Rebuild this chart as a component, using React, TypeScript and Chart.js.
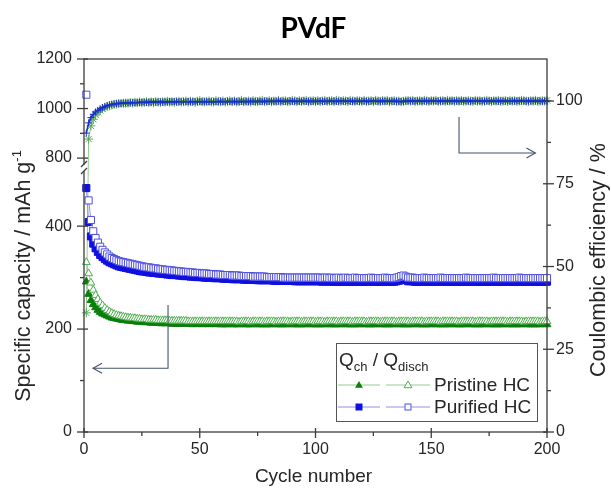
import React, { useEffect, useRef } from "react";
import { Chart, registerables } from "chart.js";
Chart.register(...registerables);

// ---------- data ----------
// Purified HC, discharge capacity (open squares), cycles 1..200, mAh/g
const purOpen: number[] = [
  1056, 450, 412, 390, 377, 368, 360, 354, 349, 345, 341, 338, 336, 334, 332, 331, 330, 329, 328, 327,
  326, 325, 324, 323, 322, 321, 320, 320, 319, 318, 318, 317, 316, 316, 315, 315, 314, 314, 313, 313,
  312, 312, 311, 311, 311, 310, 310, 309, 309, 309, 308, 308, 308, 307, 307, 307, 306, 306, 306, 305,
  305, 305, 305, 304, 304, 304, 304, 303, 303, 303, 303, 303, 302, 302, 302, 302, 302, 302, 301, 301,
  301, 301, 301, 301, 301, 300, 300, 300, 300, 300, 300, 300, 300, 300, 300, 300, 300, 300, 300, 300,
  300, 300, 299, 300, 300, 299, 300, 299, 299, 300, 299, 299, 300, 299, 299, 299, 300, 299, 299, 299,
  299, 299, 299, 300, 299, 299, 299, 299, 299, 300, 299, 299, 299, 299, 300, 301, 303, 304, 302, 300,
  300, 300, 299, 299, 299, 299, 300, 299, 299, 299, 299, 299, 299, 300, 299, 299, 299, 299, 299, 299,
  299, 299, 299, 299, 300, 299, 299, 299, 299, 299, 299, 299, 299, 299, 299, 299, 300, 299, 299, 299,
  299, 299, 299, 299, 299, 299, 299, 300, 299, 299, 299, 299, 299, 299, 299, 299, 299, 299, 299, 299,
];
// Purified HC, charge capacity (filled squares)
const purFill: number[] = [
  474, 408, 380, 366, 357, 350, 344, 340, 336, 333, 330, 328, 326, 324, 322, 321, 320, 319, 318, 317,
  316, 315, 314, 313, 312, 312, 311, 310, 310, 309, 309, 308, 308, 307, 307, 306, 306, 305, 305, 305,
  304, 304, 303, 303, 303, 302, 302, 302, 301, 301, 301, 300, 300, 300, 300, 299, 299, 299, 299, 298,
  298, 298, 298, 297, 297, 297, 297, 297, 296, 296, 296, 296, 296, 296, 295, 295, 295, 295, 295, 295,
  295, 294, 294, 294, 294, 294, 294, 294, 294, 294, 293, 293, 293, 293, 293, 293, 293, 293, 293, 293,
  293, 293, 292, 293, 293, 292, 293, 292, 292, 293, 292, 292, 293, 292, 292, 292, 293, 292, 292, 292,
  292, 292, 292, 293, 292, 292, 292, 292, 292, 293, 292, 292, 292, 292, 293, 294, 296, 297, 295, 293,
  293, 293, 292, 292, 292, 292, 293, 292, 292, 292, 292, 292, 292, 293, 292, 292, 292, 292, 292, 292,
  292, 292, 292, 292, 293, 292, 292, 292, 292, 292, 292, 292, 292, 292, 292, 292, 293, 292, 292, 292,
  292, 292, 292, 292, 292, 292, 292, 293, 292, 292, 292, 292, 292, 292, 292, 292, 292, 292, 292, 292,
];
// Pristine HC, discharge capacity (open triangles)
const priOpen: number[] = [
  330, 308, 290, 276, 266, 258, 251, 246, 241, 237, 234, 231, 229, 227, 226, 225, 224, 223, 222, 222,
  221, 221, 220, 220, 219, 219, 219, 218, 218, 218, 218, 217, 217, 217, 217, 217, 216, 216, 216, 216,
  216, 216, 216, 216, 215, 215, 215, 215, 215, 215, 215, 215, 215, 215, 215, 215, 215, 215, 215, 215,
  215, 215, 215, 215, 215, 215, 214, 215, 215, 215, 215, 214, 215, 215, 215, 215, 215, 214, 215, 215,
  215, 215, 214, 215, 215, 215, 215, 215, 214, 215, 215, 215, 215, 214, 215, 215, 215, 215, 215, 214,
  215, 215, 215, 214, 215, 215, 215, 215, 215, 214, 215, 215, 215, 215, 215, 214, 215, 215, 215, 215,
  215, 214, 215, 215, 215, 215, 215, 214, 215, 215, 215, 215, 215, 215, 214, 215, 215, 215, 215, 215,
  214, 215, 215, 215, 215, 215, 214, 215, 215, 215, 215, 215, 215, 214, 215, 215, 215, 215, 215, 215,
  215, 214, 215, 215, 215, 215, 215, 215, 214, 215, 215, 215, 215, 215, 214, 215, 215, 215, 215, 215,
  215, 215, 214, 215, 215, 215, 215, 215, 215, 214, 215, 215, 215, 215, 215, 215, 214, 215, 215, 215,
];
// Pristine HC, charge capacity (filled triangles)
const priFill: number[] = [
  292, 268, 256, 248, 242, 237, 233, 230, 228, 226, 224, 222, 221, 220, 219, 218, 217, 217, 216, 216,
  215, 215, 214, 214, 214, 213, 213, 213, 212, 212, 212, 212, 211, 211, 211, 211, 211, 210, 210, 210,
  210, 210, 210, 210, 210, 210, 209, 210, 210, 210, 209, 210, 210, 209, 210, 210, 209, 210, 209, 209,
  209, 209, 210, 209, 209, 209, 209, 210, 209, 209, 209, 209, 209, 210, 209, 209, 209, 209, 209, 209,
  209, 210, 209, 209, 209, 209, 209, 209, 210, 209, 209, 209, 209, 209, 209, 209, 210, 209, 209, 209,
  209, 209, 209, 209, 210, 209, 209, 209, 209, 209, 209, 210, 209, 209, 209, 209, 209, 209, 209, 210,
  209, 209, 209, 209, 209, 209, 210, 209, 209, 209, 209, 209, 209, 209, 210, 209, 209, 209, 209, 209,
  209, 209, 210, 209, 209, 209, 209, 209, 209, 209, 210, 209, 209, 209, 209, 209, 209, 209, 210, 209,
  209, 209, 209, 209, 209, 210, 209, 209, 209, 209, 209, 209, 209, 210, 209, 209, 209, 209, 209, 209,
  209, 210, 209, 209, 209, 209, 209, 209, 209, 210, 209, 209, 209, 209, 209, 209, 209, 210, 209, 209,
];
// Coulombic efficiency, %, Purified HC
const purCE: number[] = [
  90.3, 93.4, 95.0, 96.0, 96.7, 97.2, 97.6, 98.0, 98.3, 98.6, 98.8, 99.0, 99.1, 99.2, 99.3, 99.3, 99.4, 99.4, 99.4, 99.5,
  99.5, 99.5, 99.5, 99.6, 99.6, 99.6, 99.6, 99.6, 99.7, 99.7, 99.7, 99.7, 99.7, 99.7, 99.7, 99.7, 99.8, 99.8, 99.8, 99.8,
  99.8, 99.8, 99.8, 99.8, 99.8, 99.8, 99.8, 99.8, 99.8, 99.8, 99.8, 99.8, 99.8, 99.8, 99.8, 99.8, 99.8, 99.8, 99.9, 99.8,
  99.8, 99.9, 99.8, 99.8, 99.9, 99.8, 99.8, 99.9, 99.8, 99.9, 99.8, 99.9, 99.9, 99.8, 99.9, 99.9, 99.8, 99.9, 99.9, 99.9,
  99.9, 99.9, 99.9, 100.0, 99.9, 99.9, 99.9, 99.9, 100.0, 99.9, 99.9, 99.9, 99.9, 99.9, 100.0, 99.9, 99.9, 99.9, 99.9, 99.9,
  99.9, 100.0, 99.9, 99.9, 99.9, 100.0, 99.9, 99.9, 99.9, 99.9, 100.0, 99.9, 99.9, 100.0, 99.9, 99.9, 99.9, 100.0, 99.9, 99.9,
  100.0, 99.9, 99.9, 100.0, 99.9, 100.0, 99.9, 99.9, 100.0, 99.9, 100.0, 99.9, 100.0, 99.9, 99.9, 99.9, 99.8, 99.9, 100.0, 100.0,
  100.0, 100.0, 99.9, 100.0, 100.0, 99.9, 100.0, 100.0, 99.9, 100.0, 100.0, 100.0, 99.9, 100.0, 100.0, 100.0, 99.9, 100.0, 100.0, 100.0,
  100.0, 99.9, 100.0, 100.0, 100.0, 100.0, 99.9, 100.0, 100.0, 100.0, 100.0, 100.0, 99.9, 100.0, 100.0, 100.0, 100.0, 100.0, 99.9, 100.0,
  100.0, 100.0, 100.0, 99.9, 100.0, 100.0, 100.0, 100.0, 100.0, 100.0, 99.9, 100.0, 100.0, 100.0, 100.0, 100.0, 100.0, 99.9, 100.0, 100.0,
];
// Coulombic efficiency, %, Pristine HC
const priCE: number[] = [
  36.0, 88.5, 92.5, 94.5, 95.8, 96.6, 97.2, 97.7, 98.1, 98.4, 98.6, 98.8, 99.0, 99.1, 99.2, 99.3, 99.3, 99.4, 99.4, 99.5,
  99.4, 99.6, 99.5, 99.7, 99.5, 99.6, 99.8, 99.6, 99.7, 99.5, 99.8, 99.7, 99.6, 99.8, 99.7, 99.9, 99.7, 99.8, 99.6, 99.8,
  99.9, 99.7, 99.8, 100.0, 99.7, 99.9, 99.8, 99.6, 99.9, 100.1, 99.8, 99.7, 99.9, 100.0, 99.8, 99.7, 100.1, 99.9, 99.8, 100.0,
  99.7, 99.9, 100.1, 99.8, 100.0, 99.7, 99.9, 100.2, 99.8, 99.9, 100.0, 99.7, 100.1, 99.9, 99.8, 100.0, 100.2, 99.8, 99.9, 100.1,
  99.8, 100.0, 99.9, 100.2, 99.8, 100.0, 100.1, 99.8, 99.9, 100.2, 100.0, 99.8, 100.1, 99.9, 100.0, 100.2, 99.8, 100.0, 100.1, 99.9,
  100.1, 99.8, 100.0, 100.2, 99.9, 100.0, 100.1, 99.8, 100.2, 100.0, 99.9, 100.1, 100.0, 99.8, 100.2, 100.0, 99.9, 100.1, 100.0, 99.9,
  100.2, 99.9, 100.0, 100.1, 99.8, 100.2, 100.0, 99.9, 100.1, 100.0, 100.2, 99.8, 100.0, 100.1, 99.9, 100.0, 99.8, 99.9, 100.1, 100.1,
  100.0, 100.2, 99.9, 100.0, 100.1, 99.9, 100.2, 100.0, 99.9, 100.1, 100.0, 100.2, 99.9, 100.0, 100.1, 99.9, 100.2, 100.0, 100.1, 99.9,
  100.1, 100.0, 100.2, 99.9, 100.0, 100.1, 100.0, 99.9, 100.2, 100.0, 100.1, 99.9, 100.0, 100.2, 100.0, 99.9, 100.1, 100.0, 100.2, 99.9,
  100.0, 100.1, 99.9, 100.2, 100.0, 100.1, 99.9, 100.0, 100.2, 100.1, 100.0, 99.9, 100.1, 100.0, 100.2, 99.9, 100.0, 100.1, 100.0, 100.2,
];

// ---------- axes ----------
const xTicks = [0, 25, 50, 75, 100, 125, 150, 175, 200];
const xLabels = [0, 50, 100, 150, 200];
const capLowTicks = [0, 100, 200, 300, 400];
const capLowLabels = [0, 200, 400];
const capUpTicks = [800, 900, 1000, 1100, 1200];
const capUpLabels = [800, 1000, 1200];
const ceTicks = [0, 12.5, 25, 37.5, 50, 62.5, 75, 87.5, 100];
const ceLabels = [0, 25, 50, 75, 100];
const X_MAX = 200;
const CAP_LOW_MAX = 513;
const CAP_UP_MIN = 760;
const CAP_UP_MAX = 1200;
const CE_MAX = 112.7;

const W = 611;
const H = 488;
const FONT = "'Liberation Sans', Arial, sans-serif";

const C = {
  blueFill: "#1010e0",
  blueOpen: "#4f4fe2",
  blueLine: "#9090e0",
  greenFill: "#0a7d0a",
  greenOpen: "#4fae4f",
  greenLine: "#92cc92",
  ceGreen: "#5aa85a",
  ceBlue: "#1c2fc8",
  axis: "#3c3c3c",
  text: "#262626",
  arrow: "#44546a",
};

function tri(ctx: CanvasRenderingContext2D, cx: number, cy: number, r: number) {
  ctx.beginPath();
  ctx.moveTo(cx, cy - r);
  ctx.lineTo(cx + r * 0.866, cy + r * 0.5);
  ctx.lineTo(cx - r * 0.866, cy + r * 0.5);
  ctx.closePath();
}

const decor = {
  id: "decor",
  afterDraw(chart: any) {
    const { ctx, chartArea: ca, scales } = chart;
    const sx = scales.x, yl = scales.yLow, yu = scales.yUp, yc = scales.yCE;
    ctx.save();
    const seg = (x1: number, y1: number, x2: number, y2: number) => {
      ctx.beginPath();
      ctx.moveTo(x1, y1);
      ctx.lineTo(x2, y2);
      ctx.stroke();
    };
    // frame
    ctx.strokeStyle = C.axis;
    ctx.lineWidth = 1.3;
    ctx.strokeRect(ca.left, ca.top, ca.right - ca.left, ca.bottom - ca.top);
    // ticks
    xTicks.forEach((v) => {
      const p = sx.getPixelForValue(v);
      if (xLabels.includes(v)) seg(p, ca.bottom - 4, p, ca.bottom + 6);
      else seg(p, ca.bottom, p, ca.bottom + 4);
    });
    const leftTicks = (scale: any, ticks: number[], labels: number[]) =>
      ticks.forEach((v) => {
        const p = scale.getPixelForValue(v);
        if (labels.includes(v)) seg(ca.left - 7, p, ca.left + 4, p);
        else seg(ca.left - 4, p, ca.left, p);
      });
    leftTicks(yl, capLowTicks, capLowLabels);
    leftTicks(yu, capUpTicks, capUpLabels);
    ceTicks.forEach((v) => {
      const p = yc.getPixelForValue(v);
      if (ceLabels.includes(v)) seg(ca.right - 4, p, ca.right + 7, p);
      else seg(ca.right, p, ca.right + 4, p);
    });
    // axis break
    const by = yl.top;
    ctx.fillStyle = "#fff";
    ctx.fillRect(ca.left - 2, by - 3, 4, 6);
    ctx.lineWidth = 1.2;
    seg(ca.left - 3, by - 1, ca.left + 3, by - 7);
    seg(ca.left - 3, by + 6, ca.left + 3, by);

    // arrows (data coordinates)
    ctx.strokeStyle = C.arrow;
    ctx.lineWidth = 1.1;
    {
      const ax = sx.getPixelForValue(36.3);
      const y1 = yl.getPixelForValue(247);
      const y2 = yl.getPixelForValue(124);
      const tip = sx.getPixelForValue(3.9);
      ctx.beginPath();
      ctx.moveTo(ax, y1);
      ctx.lineTo(ax, y2);
      ctx.lineTo(tip, y2);
      ctx.stroke();
      ctx.beginPath();
      ctx.moveTo(tip + 9, y2 - 5);
      ctx.lineTo(tip, y2);
      ctx.lineTo(tip + 9, y2 + 5);
      ctx.stroke();
    }
    {
      const bx = sx.getPixelForValue(162);
      const y1 = yc.getPixelForValue(95.2);
      const y2 = yc.getPixelForValue(84.3);
      const tip = sx.getPixelForValue(195);
      ctx.beginPath();
      ctx.moveTo(bx, y1);
      ctx.lineTo(bx, y2);
      ctx.lineTo(tip, y2);
      ctx.stroke();
      ctx.beginPath();
      ctx.moveTo(tip - 9, y2 - 5);
      ctx.lineTo(tip, y2);
      ctx.lineTo(tip - 9, y2 + 5);
      ctx.stroke();
    }

    // title
    ctx.fillStyle = "#000";
    ctx.textAlign = "center";
    ctx.textBaseline = "alphabetic";
    ctx.font = "bold 28px Lato, 'Open Sans', sans-serif";
    ctx.fillText("PVdF", (ca.left + ca.right) / 2 - 2, 38);

    // axis titles
    ctx.fillStyle = C.text;
    ctx.font = `19px ${FONT}`;
    ctx.fillText("Cycle number", (ca.left + ca.right) / 2 - 2, 482);

    const rotText = (x0: number, cy: number, parts: { t: string; s: number; dy: number }[]) => {
      ctx.save();
      ctx.translate(x0, cy);
      ctx.rotate(-Math.PI / 2);
      ctx.textAlign = "left";
      let total = 0;
      parts.forEach((p) => {
        ctx.font = `${p.s}px ${FONT}`;
        total += ctx.measureText(p.t).width;
      });
      let x = -total / 2;
      parts.forEach((p) => {
        ctx.font = `${p.s}px ${FONT}`;
        ctx.fillText(p.t, x, p.dy);
        x += ctx.measureText(p.t).width;
      });
      ctx.restore();
    };
    rotText(30, 276, [
      { t: "Specific capacity / mAh g", s: 21.5, dy: 0 },
      { t: "-1", s: 13, dy: -9 },
    ]);
    rotText(605, 260, [{ t: "Coulombic efficiency / %", s: 21.5, dy: 0 }]);

    // legend
    const lx = 336, ly = 343, lw = 201, lh = 78;
    ctx.strokeStyle = "#555";
    ctx.lineWidth = 1;
    ctx.strokeRect(lx + 0.5, ly + 0.5, lw, lh);
    ctx.fillStyle = C.text;
    ctx.textAlign = "left";
    ctx.textBaseline = "alphabetic";
    let hx = lx + 3;
    const hb = ly + 23;
    const put = (t: string, s: number, dy: number) => {
      ctx.font = `${s}px ${FONT}`;
      ctx.fillText(t, hx, hb + dy);
      hx += ctx.measureText(t).width;
    };
    put("Q", 19, 0);
    put("ch", 13, 5);
    put(" / Q", 19, 0);
    put("disch", 13, 5);

    const rows = [
      { y: ly + 42, line: C.greenLine, fill: C.greenFill, open: C.greenOpen, shape: "tri", label: "Pristine HC" },
      { y: ly + 64, line: C.blueLine, fill: C.blueFill, open: C.blueOpen, shape: "sq", label: "Purified HC" },
    ];
    rows.forEach((r) => {
      ctx.strokeStyle = r.line;
      ctx.lineWidth = 1;
      seg(lx + 2, r.y, lx + 44, r.y);
      seg(lx + 50, r.y, lx + 94, r.y);
      const m1 = lx + 23, m2 = lx + 72;
      if (r.shape === "tri") {
        tri(ctx, m1, r.y + 0.5, 4.5);
        ctx.fillStyle = r.fill;
        ctx.fill();
        tri(ctx, m2, r.y + 0.5, 4.5);
        ctx.fillStyle = "#fff";
        ctx.fill();
        ctx.strokeStyle = r.open;
        ctx.stroke();
      } else {
        ctx.fillStyle = r.fill;
        ctx.fillRect(m1 - 3.5, r.y - 3.5, 7, 7);
        ctx.fillStyle = "#fff";
        ctx.fillRect(m2 - 3.5, r.y - 3.5, 7, 7);
        ctx.strokeStyle = r.open;
        ctx.strokeRect(m2 - 3, r.y - 3, 6, 6);
      }
      ctx.fillStyle = C.text;
      ctx.font = `19px ${FONT}`;
      ctx.textBaseline = "middle";
      ctx.fillText(r.label, lx + 98, r.y + 1);
      ctx.textBaseline = "alphabetic";
    });
    ctx.restore();
  },
};

export default function App() {
  const ref = useRef<HTMLCanvasElement>(null);
  useEffect(() => {
    const cv = ref.current;
    if (!cv) return;
    const cycles = purOpen.map((_, i) => i + 1);
    const pts = (arr: number[], keep: (v: number) => boolean) =>
      arr.map((v, i) => ({ x: cycles[i], y: keep(v) ? v : null }));
    const inLow = (v: number) => v <= CAP_LOW_MAX;
    const inUp = (v: number) => v >= CAP_UP_MIN;
    const all = () => true;

    const tickFont = { family: FONT, size: 16 };
    const labelCb = (labels: number[]) => (v: any) => (labels.includes(Number(v)) ? String(v) : "");

    const chart = new Chart(cv, {
      type: "line",
      data: {
        datasets: [
          {
            label: "Purified Qdisch",
            data: pts(purOpen, inLow),
            yAxisID: "yLow",
            borderColor: C.blueLine,
            borderWidth: 1,
            pointStyle: "rect",
            pointRadius: 5,
            pointBorderWidth: 1,
            pointBorderColor: C.blueOpen,
            pointBackgroundColor: "#fff",
            clip: false,
          },
          {
            label: "Purified Qdisch (upper)",
            data: pts(purOpen, inUp),
            yAxisID: "yUp",
            showLine: false,
            pointStyle: "rect",
            pointRadius: 5,
            pointBorderWidth: 1,
            pointBorderColor: C.blueOpen,
            pointBackgroundColor: "#fff",
            clip: false,
          },
          {
            label: "Purified Qch",
            data: pts(purFill, inLow),
            yAxisID: "yLow",
            borderColor: C.blueLine,
            borderWidth: 1,
            pointStyle: "rect",
            pointRadius: 5,
            pointBorderWidth: 1,
            pointBorderColor: C.blueFill,
            pointBackgroundColor: C.blueFill,
            clip: false,
          },
          {
            label: "Pristine Qdisch",
            data: pts(priOpen, inLow),
            yAxisID: "yLow",
            borderColor: C.greenLine,
            borderWidth: 1,
            pointStyle: "triangle",
            pointRadius: 4.5,
            pointBorderWidth: 1,
            pointBorderColor: C.greenOpen,
            pointBackgroundColor: "#fff",
            clip: false,
          },
          {
            label: "Pristine Qch",
            data: pts(priFill, inLow),
            yAxisID: "yLow",
            borderColor: C.greenLine,
            borderWidth: 1,
            pointStyle: "triangle",
            pointRadius: 4.5,
            pointBorderWidth: 1,
            pointBorderColor: C.greenFill,
            pointBackgroundColor: C.greenFill,
            clip: false,
          },
          {
            label: "Purified CE",
            data: pts(purCE, all),
            yAxisID: "yCE",
            borderColor: C.ceBlue,
            borderWidth: 1.6,
            pointStyle: "cross",
            pointRadius: 3.5,
            pointBorderWidth: 1,
            pointBorderColor: C.ceBlue,
            pointBackgroundColor: C.ceBlue,
            clip: false,
          },
          {
            label: "Pristine CE",
            data: pts(priCE, all),
            yAxisID: "yCE",
            borderColor: C.greenLine,
            borderWidth: 1,
            pointStyle: "star",
            pointRadius: 4.5,
            pointBorderWidth: 1,
            pointBorderColor: C.ceGreen,
            pointBackgroundColor: C.ceGreen,
            clip: false,
          },
        ],
      },
      options: {
        animation: false,
        responsive: false,
        events: [],
        layout: { padding: { top: 59, left: 0, right: 0, bottom: 0 } },
        plugins: { legend: { display: false }, title: { display: false }, tooltip: { enabled: false } },
        scales: {
          x: {
            type: "linear",
            position: "bottom",
            min: 0,
            max: X_MAX,
            grid: { display: false },
            border: { display: false },
            ticks: { font: tickFont, color: C.text, padding: 0, autoSkip: false, maxRotation: 0, callback: labelCb(xLabels) },
            afterBuildTicks: (s: any) => {
              s.ticks = xTicks.map((v) => ({ value: v }));
            },
            afterFit: (s: any) => {
              s.height = 56;
            },
          },
          yLow: {
            type: "linear",
            position: "left",
            stack: "cap",
            stackWeight: 264,
            weight: 0,
            min: 0,
            max: CAP_LOW_MAX,
            grid: { display: false },
            border: { display: false },
            ticks: { font: tickFont, color: C.text, padding: 4, autoSkip: false, callback: labelCb(capLowLabels) },
            afterBuildTicks: (s: any) => {
              s.ticks = capLowTicks.map((v) => ({ value: v }));
            },
            afterFit: (s: any) => {
              s.width = 84;
            },
          },
          yUp: {
            type: "linear",
            position: "left",
            stack: "cap",
            stackWeight: 109,
            weight: 1,
            min: CAP_UP_MIN,
            max: CAP_UP_MAX,
            grid: { display: false },
            border: { display: false },
            ticks: { font: tickFont, color: C.text, padding: 4, autoSkip: false, callback: labelCb(capUpLabels) },
            afterBuildTicks: (s: any) => {
              s.ticks = capUpTicks.map((v) => ({ value: v }));
            },
            afterFit: (s: any) => {
              s.width = 84;
            },
          },
          yCE: {
            type: "linear",
            position: "right",
            min: 0,
            max: CE_MAX,
            grid: { display: false },
            border: { display: false },
            ticks: { font: tickFont, color: C.text, padding: 1, autoSkip: false, callback: labelCb(ceLabels) },
            afterBuildTicks: (s: any) => {
              s.ticks = ceTicks.map((v) => ({ value: v }));
            },
            afterFit: (s: any) => {
              s.width = 64;
            },
          },
        },
      } as any,
      plugins: [decor],
    });
    return () => chart.destroy();
  }, []);

  return (
    <div style={{ position: "absolute", left: 0, top: 0, width: W, height: H, background: "#fff" }}>
      <canvas ref={ref} width={W} height={H} style={{ display: "block", width: W, height: H }} />
    </div>
  );
}
